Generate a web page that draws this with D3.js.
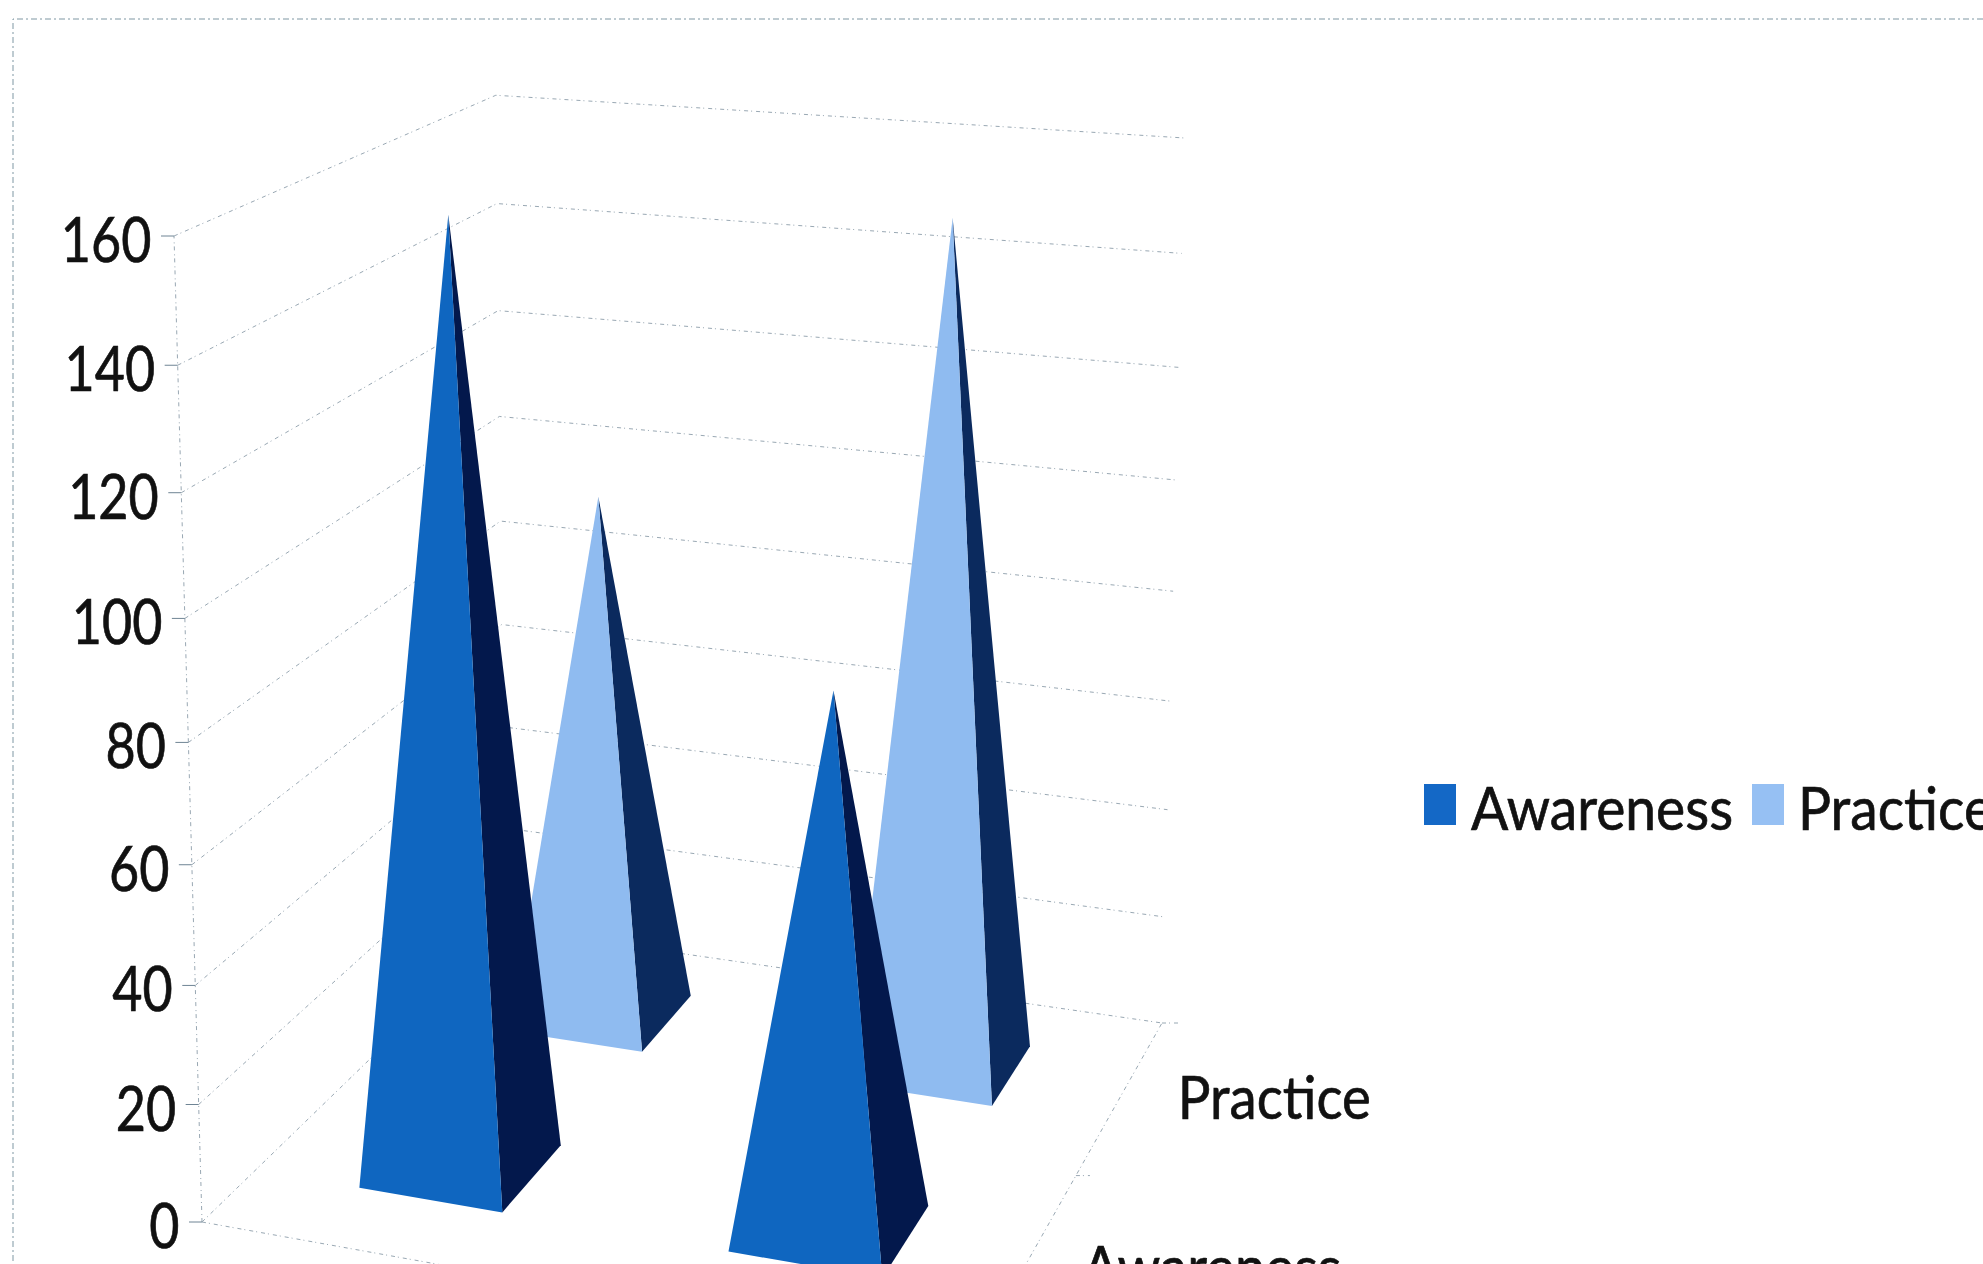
<!DOCTYPE html>
<html>
<head>
<meta charset="utf-8">
<script src="https://cdn.jsdelivr.net/npm/d3@7"></script>
<style>
html,body{margin:0;padding:0;background:#fff;overflow:hidden}
text{font-family:Lato,"Open Sans",sans-serif;fill:#111;stroke:#111;stroke-width:.7}
</style>
</head>
<body>
<svg id="chart" width="1983" height="1264"></svg>
<script>
// Chart data
const groups = ["1", "2"];
const seriesNames = ["Awareness", "Practice"];
const awareness = [159, 89];
const practice = [96, 150];
const valueTicks = [0, 20, 40, 60, 80, 100, 120, 140, 160];

const colors = {
  Awareness: {front: "#0F66C0", side: "#03184C", key: "#1468C6"},
  Practice: {front: "#8FBBF0", side: "#0B2A5E", key: "#96C0F3"}
};

// Box geometry in page pixels: three floor corners with their perspective
// weights, and the top of the front-left edge
const floorFrontLeft = [202, 1222];
const floorBackLeft = [505, 928], backLeftWeight = 1.193;
const floorBackRight = [1162, 1023], backRightWeight = 1.12;
const topFrontLeft = [174, 236], topWeight = 0.947;

// Projective camera mapping (group, depth, height), each in 0..1, to the page
function buildCamera() {
  const fl = [floorFrontLeft[0], floorFrontLeft[1], 1];
  const bl = [floorBackLeft[0] * backLeftWeight, floorBackLeft[1] * backLeftWeight, backLeftWeight];
  const br = [floorBackRight[0] * backRightWeight, floorBackRight[1] * backRightWeight, backRightWeight];
  const tl = [topFrontLeft[0] * topWeight, topFrontLeft[1] * topWeight, topWeight];
  const across = br.map((c, i) => c - bl[i]);
  const deep = bl.map((c, i) => c - fl[i]);
  const up = tl.map((c, i) => c - fl[i]);
  return (u, w, t) => {
    const h = fl.map((c, i) => c + u * across[i] + w * deep[i] + t * up[i]);
    return [h[0] / h[2], h[1] / h[2]];
  };
}
const project = buildCamera();

const valueScale = d3.scaleLinear().domain([0, 160]).range([0, 1]);
const groupScale = d3.scaleBand().domain(groups).range([-0.004, 0.996])
  .paddingInner(0.604).paddingOuter(0.302);
const depthScale = d3.scaleBand().domain(seriesNames).range([0, 1.015])
  .paddingInner(0.604).paddingOuter(0.302);

const svg = d3.select("#chart");
const line = d3.line();

// Outer chart border
const border = [[1983, 19], [13, 19], [13, 1264]];
svg.append("path").attr("d", line(border)).attr("fill", "none")
  .attr("stroke", "#7f97a3").attr("stroke-width", 1).attr("stroke-dasharray", "6 3 2 3");

// Gridlines on the two walls, and the floor outline
const grid = svg.append("g").attr("fill", "none").attr("stroke", "#6f8494")
  .attr("stroke-width", 1).attr("stroke-dasharray", "4 3 1 4").attr("opacity", 0.7);
grid.selectAll("path.wall").data(valueTicks).join("path").attr("class", "wall")
  .attr("d", v => {
    const t = valueScale(v);
    return line([project(0, 0, t), project(0, 1, t), project(1, 1, t)]);
  });
grid.append("path").attr("d", line([project(0, 0, 0), project(1, 0, 0), project(1, 1, 0)]));
grid.append("path").attr("d", line([project(0, 0, 0), project(0, 0, 1)]));
grid.append("path").attr("d", () => {
  const [mx, my] = project(1, 0.5, 0);
  return line([[mx, my], [mx + 14, my]]);
});
grid.append("path").attr("d", () => {
  const [bx, by] = project(1, 1, 0);
  return line([[bx, by], [bx + 17, by]]);
});

// Narrow the wide glyphs a little so the labels sit at their set width
function squeeze(sel, ratio) {
  sel.each(function () {
    this.setAttribute("textLength", this.getComputedTextLength() * ratio);
    this.setAttribute("lengthAdjust", "spacingAndGlyphs");
  });
}

// Value axis: ticks and labels follow the front-left edge
const axis = svg.append("g");
axis.selectAll("path").data(valueTicks).join("path")
  .attr("fill", "none").attr("stroke", "#6f8494").attr("stroke-width", 1)
  .attr("d", v => {
    const [x, y] = project(0, 0, valueScale(v));
    return line([[x - 13, y], [x, y]]);
  });
axis.selectAll("text").data(valueTicks).join("text")
  .attr("x", v => project(0, 0, valueScale(v))[0] - 22.5)
  .attr("y", v => project(0, 0, valueScale(v))[1] + 26)
  .attr("text-anchor", "end").attr("font-size", 62)
  .text(v => v).call(squeeze, 0.84);

// Series labels along the right floor edge
const depthMid = s => project(1, depthScale(s) + depthScale.bandwidth() / 2, 0);
svg.selectAll("text.depth").data(seriesNames).join("text").attr("class", "depth")
  .attr("x", s => depthMid(s)[0] + 55)
  .attr("y", s => depthMid(s)[1] + 27)
  .attr("font-size", 60).text(s => s).call(squeeze, 0.91);

// Pyramids, back row first so the front row covers it
const marks = [];
seriesNames.slice().reverse().forEach(s => {
  const vals = s === "Awareness" ? awareness : practice;
  groups.forEach((g, i) => marks.push({series: s, group: g, value: vals[i]}));
});
const pyramid = svg.selectAll("g.pyramid").data(marks).join("g").attr("class", "pyramid");
const corners = m => {
  const u0 = groupScale(m.group), u1 = u0 + groupScale.bandwidth();
  const w0 = depthScale(m.series), w1 = w0 + depthScale.bandwidth();
  return {
    a: project(u0, w0, 0), b: project(u1, w0, 0), c: project(u1, w1, 0),
    apex: project((u0 + u1) / 2, (w0 + w1) / 2, valueScale(m.value))
  };
};
pyramid.append("path").attr("fill", m => colors[m.series].side)
  .attr("d", m => { const p = corners(m); return line([p.b, p.c, p.apex]) + "Z"; });
pyramid.append("path").attr("fill", m => colors[m.series].front)
  .attr("d", m => { const p = corners(m); return line([p.a, p.b, p.apex]) + "Z"; });

// Legend
const legendKeys = [{name: "Awareness", x: 1424, tx: 1471}, {name: "Practice", x: 1752, tx: 1798}];
const legend = svg.selectAll("g.key").data(legendKeys).join("g").attr("class", "key");
legend.append("rect").attr("x", k => k.x).attr("y", 784).attr("width", 32).attr("height", 41)
  .attr("fill", k => colors[k.name].key);
legend.append("text").attr("x", k => k.tx).attr("y", 830).attr("font-size", 60)
  .text(k => k.name).call(squeeze, 0.92);
</script>
</body>
</html>
